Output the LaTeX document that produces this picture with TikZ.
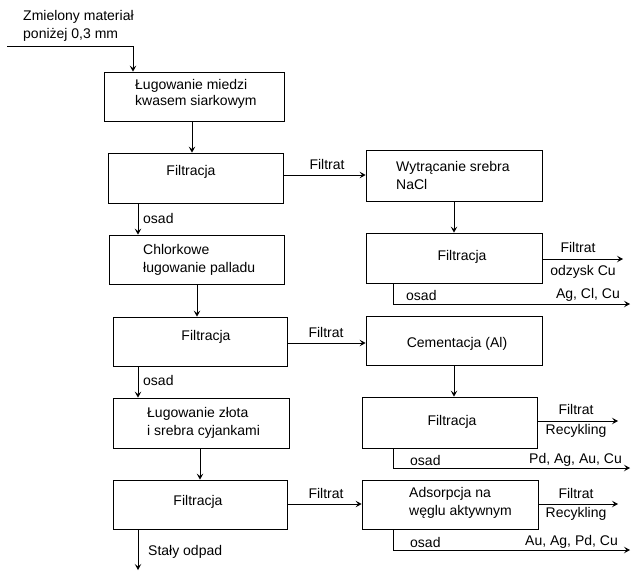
\documentclass[tikz,border=0pt]{standalone}
\usepackage{fontspec}
\setmainfont{Liberation Sans}
\usetikzlibrary{arrows.meta,calc}
\begin{document}
\begin{tikzpicture}[x=1pt,y=-1pt,
  every node/.style={font=\fontsize{14}{18}\selectfont, inner sep=0pt},
  box/.style={draw, line width=0.8pt, inner sep=0pt},
  lbl/.style={align=left, anchor=west},
  line/.style={line width=0.8pt},
  arr/.style={line width=0.8pt, -{Stealth[length=6pt,width=6.5pt,inset=2.5pt]}}]
\useasboundingbox (0,0) rectangle (631,570);

% process boxes
\node[box, minimum width=180pt, minimum height=49pt] (b1) at (194,96.5) {};
\node[box, minimum width=175pt, minimum height=50pt] (b2) at (195.5,178) {};
\node[box, minimum width=175pt, minimum height=49pt] (b3) at (196.5,259.5) {};
\node[box, minimum width=174pt, minimum height=49pt] (b4) at (200,341.5) {};
\node[box, minimum width=176pt, minimum height=50pt] (b5) at (201,423) {};
\node[box, minimum width=174pt, minimum height=49pt] (b6) at (200,504.5) {};
\node[box, minimum width=176pt, minimum height=51pt] (b7) at (454,175.5) {};
\node[box, minimum width=176pt, minimum height=50pt] (b8) at (454,258) {};
\node[box, minimum width=176pt, minimum height=49pt] (b9) at (454,340.5) {};
\node[box, minimum width=175pt, minimum height=51pt] (b10) at (449.5,422.5) {};
\node[box, minimum width=176pt, minimum height=49pt] (b11) at (450,504.5) {};

% box texts
\node[lbl, font=\fontsize{14}{16}\selectfont] (t1) at (135,93.5) {Ługowanie miedzi\\kwasem siarkowym};
\node (t2) at (191,172) {Filtracja};
\node[lbl] (t3) at (143,260) {Chlorkowe\\ługowanie palladu};
\node (t4) at (206,337) {Filtracja};
\node[lbl] (t5) at (147,423) {Ługowanie złota\\i srebra cyjankami};
\node (t6) at (198,502) {Filtracja};
\node[lbl] (t7) at (396,175) {Wytrącanie srebra\\NaCl};
\node (t8) at (462,257) {Filtracja};
\node (t9) at (457,344) {Cementacja (Al)};
\node (t10) at (452,422) {Filtracja};
\node[lbl] (t11) at (409,502.5) {Adsorpcja na\\węglu aktywnym};

% feed
\node[lbl] (feed) at (23,26) {Zmielony materiał\\poniżej 0,3 mm};
\coordinate (in) at (7,46);
\draw[arr] (in) -| (b1.north -| 133,0);

% main column
\draw[arr] (b1.south -| 192,0) -- (b2.north -| 192,0);
\draw[arr] (b2.south -| 138,0) -- (b3.north -| 138,0);
\node[anchor=west] (o1) at (143,218) {osad};
\draw[arr] (b3.south -| 197,0) -- (b4.north -| 197,0);
\draw[arr] (b4.south -| 138,0) -- (b5.north -| 138,0);
\node[anchor=west] (o2) at (143,380) {osad};
\draw[arr] (b5.south -| 200,0) -- (b6.north -| 200,0);
\coordinate (waste) at (138,570);
\draw[arr] (b6.south -| 138,0) -- (waste);
\node[anchor=west] (o3) at (148,552) {Stały odpad};

% filtrate branches
\draw[arr] (b2.east |- 0,175) -- (b7.west |- 0,175);
\node (f1) at (327,164) {Filtrat};
\draw[arr] (b4.east |- 0,343) -- (b9.west |- 0,343);
\node (f2) at (326,332) {Filtrat};
\draw[arr] (b6.east |- 0,504) -- (b11.west |- 0,504);
\node (f3) at (326,493) {Filtrat};

\draw[arr] (b7.south -| 454,0) -- (b8.north -| 454,0);
\draw[arr] (b9.south -| 454,0) -- (b10.north -| 454,0);

% outputs of the right column
\coordinate (e8) at (623,259);
\draw[arr] (b8.east |- e8) -- (e8);
\node (f8) at (578,247) {Filtrat};
\node (r8) at (583,272) {odzysk Cu};
\coordinate (s8) at (630,304);
\draw[arr] (b8.south -| 393,0) |- (s8);
\node[anchor=west] (o8) at (406,295) {osad};
\node[anchor=east] (m8) at (620,295) {Ag, Cl, Cu};

\coordinate (e10) at (618,421);
\draw[arr] (b10.east |- e10) -- (e10);
\node (f10) at (576,409) {Filtrat};
\node (r10) at (576,431) {Recykling};
\coordinate (s10) at (630,468);
\draw[arr] (b10.south -| 393,0) |- (s10);
\node[anchor=west] (o10) at (410,460) {osad};
\node[anchor=east] (m10) at (622,460) {Pd, Ag, Au, Cu};

\coordinate (e11) at (618,504);
\draw[arr] (b11.east |- e11) -- (e11);
\node (f11) at (576,493) {Filtrat};
\node (r11) at (576,514) {Recykling};
\coordinate (s11) at (630,550);
\draw[arr] (b11.south -| 393,0) |- (s11);
\node[anchor=west] (o11) at (410,542) {osad};
\node[anchor=east] (m11) at (618,542) {Au, Ag, Pd, Cu};
\end{tikzpicture}
\end{document}
